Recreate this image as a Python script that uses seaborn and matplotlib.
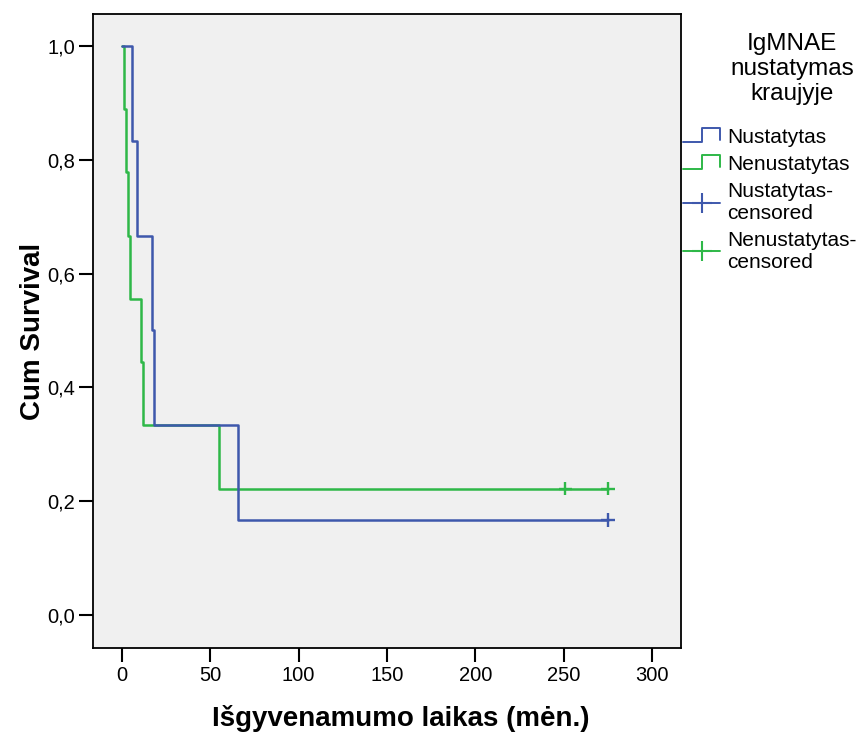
import matplotlib
matplotlib.use("Agg")
import matplotlib.pyplot as plt
import numpy as np
import pandas as pd
import seaborn as sns
from matplotlib.lines import Line2D
from matplotlib.legend_handler import HandlerBase
from matplotlib.ticker import FuncFormatter

# Kaplan-Meier step values (time in months, cumulative survival)
groups = ["Nustatytas", "Nenustatytas"]
nust_time = [0, 5.7, 8.5, 17, 18, 65.5, 275]
nust_surv = [1.0, 5 / 6, 4 / 6, 3 / 6, 2 / 6, 1 / 6, 1 / 6]
nenust_time = [0, 1.4, 2.0, 3.4, 4.5, 10.7, 11.7, 55, 275]
nenust_surv = [1.0, 8 / 9, 7 / 9, 6 / 9, 5 / 9, 4 / 9, 3 / 9, 2 / 9, 2 / 9]

# Censored observations
nust_cens_time = [275]
nust_cens_surv = [1 / 6]
nenust_cens_time = [251, 275]
nenust_cens_surv = [2 / 9, 2 / 9]

x_ticks = [0, 50, 100, 150, 200, 250, 300]
y_ticks = [0.0, 0.2, 0.4, 0.6, 0.8, 1.0]

legend_title = "IgMNAE\nnustatymas\nkraujyje"
x_label = "Išgyvenamumo laikas (mėn.)"
y_label = "Cum Survival"

colors = {"Nustatytas": "#3E58AC", "Nenustatytas": "#2EB848"}

sns.set_style("ticks", {"axes.facecolor": "#F0F0F0", "axes.edgecolor": "black"})
plt.rcParams["font.family"] = ["Liberation Sans", "DejaVu Sans"]
plt.rcParams["text.color"] = "black"
plt.rcParams["axes.labelcolor"] = "black"

steps = pd.concat([
    pd.DataFrame({"time": nust_time, "surv": nust_surv, "group": groups[0]}),
    pd.DataFrame({"time": nenust_time, "surv": nenust_surv, "group": groups[1]}),
], ignore_index=True)
cens = pd.concat([
    pd.DataFrame({"time": nust_cens_time, "surv": nust_cens_surv, "group": groups[0]}),
    pd.DataFrame({"time": nenust_cens_time, "surv": nenust_cens_surv, "group": groups[1]}),
], ignore_index=True)

W, H = 863, 738
fig = plt.figure(figsize=(W / 100, H / 100), dpi=100)
ax = fig.add_axes([93 / W, 1 - 648 / H, (681 - 93) / W, (648 - 14) / H])

# Draw the second group first so the first one sits on top where they overlap
for g in [groups[1], groups[0]]:
    sns.lineplot(data=steps[steps["group"] == g], x="time", y="surv", color=colors[g],
                 drawstyle="steps-post", estimator=None, sort=False, legend=False,
                 linewidth=1.8, ax=ax)
sns.scatterplot(data=cens, x="time", y="surv", hue="group", palette=colors,
                marker="+", s=100, linewidth=1.7, legend=False, ax=ax, zorder=3)

ax.set_xlim(-16.4, 316.4)
ax.set_ylim(-0.058, 1.056)
ax.set_xticks(x_ticks)
ax.set_yticks(y_ticks)
ax.yaxis.set_major_formatter(FuncFormatter(lambda v, p: f"{v:.1f}".replace(".", ",")))
ax.tick_params(axis="both", direction="out", length=10, width=1.5, labelsize=14.5,
               color="black", labelcolor="black", pad=3, bottom=True, left=True)
for s in ax.spines.values():
    s.set_linewidth(1.3)
    s.set_color("black")

ax.set_xlabel(x_label, fontsize=20, fontweight="bold", va="top")
ax.xaxis.set_label_coords((401 - 93) / 588, (648 - 705) / 634)
ax.set_ylabel(y_label, fontsize=20, fontweight="bold")
ax.yaxis.set_label_coords((46 - 93) / 588, 0.5)


class StepHandler(HandlerBase):
    def create_artists(self, legend, orig_handle, xdescent, ydescent, width, height,
                       fontsize, trans):
        x0, y0 = -xdescent, -ydescent
        lo, hi = y0 + height * 0.05, y0 + height * 1.0
        xm = x0 + width * 0.5
        xs = [x0, xm, xm, x0 + width, x0 + width]
        ys = [lo, lo, hi, hi, lo + height * 0.15]
        ln = Line2D(xs, ys, color=orig_handle.get_color(), linewidth=1.4)
        ln.set_transform(trans)
        return [ln]


h_n = Line2D([], [], color=colors["Nustatytas"])
h_nn = Line2D([], [], color=colors["Nenustatytas"])
h_nc = Line2D([], [], color=colors["Nustatytas"], marker="+", markersize=15,
              markeredgewidth=1.5, linewidth=1.4)
h_nnc = Line2D([], [], color=colors["Nenustatytas"], marker="+", markersize=15,
               markeredgewidth=1.5, linewidth=1.4)

fig.legend([h_n, h_nn, h_nc, h_nnc],
           ["Nustatytas", "Nenustatytas", "Nustatytas-\ncensored", "Nenustatytas-\ncensored"],
           handler_map={h_n: StepHandler(), h_nn: StepHandler()},
           loc="upper left", bbox_to_anchor=(683 / W, 1 - 128 / H),
           frameon=False, borderpad=0, borderaxespad=0, fontsize=15,
           handlelength=1.78, handletextpad=0.33, labelspacing=0.38)

fig.text(792 / W, 1 - 69 / H, legend_title, ha="center", va="center",
         fontsize=17.5, linespacing=1.15)

fig.savefig("out.png", dpi=100)
